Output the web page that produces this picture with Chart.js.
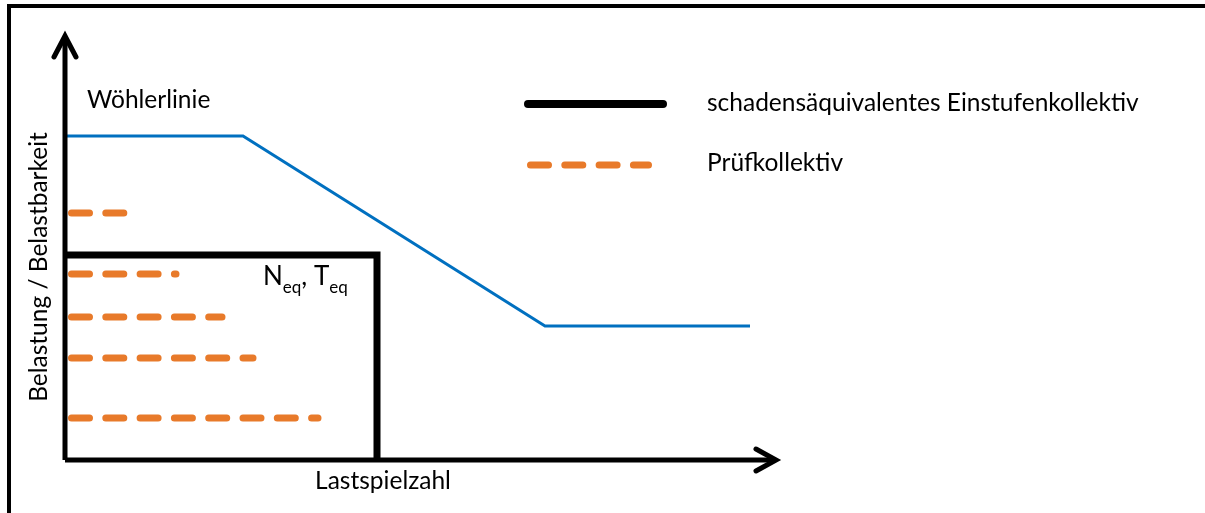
<!DOCTYPE html>
<html lang="de">
<head>
  <meta charset="UTF-8" />
  <title>Wöhlerlinie und Prüfkollektiv</title>
  <style>
    body { margin: 0; background: #fff; }
    #wrap { width: 1205px; height: 513px; position: relative; }
  </style>
</head>
<body>

<div id="wrap"><canvas id="graph"></canvas></div>

<script src="https://cdn.jsdelivr.net/npm/chart.js"></script>
<script>
// Schema-Einheiten: Ursprung = Schnittpunkt der Achsen
const woehlerX = [0, 178, 480, 685];
const woehlerY = [324, 324, 134, 134];

const eqX = [0, 312, 312];
const eqY = [205, 205, 0];

// Prüfkollektiv: Stufenhöhe und Ende jeder Stufe
const stufenY = [247, 186, 143, 102, 42];
const stufenEnde = [59, 111, 157, 188, 253];

const achseX = [0, 711];
const achseY = [0, 423];

const texte = {
  woehler: 'Wöhlerlinie',
  legEq: 'schadensäquivalentes Einstufenkollektiv',
  legPruef: 'Prüfkollektiv',
  xTitel: 'Lastspielzahl',
  yTitel: 'Belastung / Belastbarkeit'
};

const FONT = 'Lato, "Open Sans", sans-serif';
const GR = 24.5;
const blau = '#0070C0';
const orange = '#E87A2A';

const pts = (xs, ys) => xs.map((x, i) => ({x: x, y: ys[i]}));

const datasets = [];

// Achsen mit Pfeilspitzen
datasets.push({ data: pts(achseX, [0, 0]), borderColor: '#000', borderWidth: 5 });
datasets.push({ data: pts(achseX.map(() => 0), achseY), borderColor: '#000', borderWidth: 5 });
datasets.push({ data: [{x: 691, y: 11}, {x: 711, y: 0}, {x: 691, y: -11}], borderColor: '#000', borderWidth: 5, borderCapStyle: 'round' });
datasets.push({ data: [{x: -11, y: 403}, {x: 0, y: 424}, {x: 11, y: 403}], borderColor: '#000', borderWidth: 5, borderCapStyle: 'round' });

datasets.push({ data: pts(woehlerX, woehlerY), borderColor: blau, borderWidth: 3 });
datasets.push({ data: pts(eqX, eqY), borderColor: '#000', borderWidth: 7, borderJoinStyle: 'miter' });

stufenY.forEach((y, i) => {
  datasets.push({
    data: [{x: 6.5, y: y}, {x: stufenEnde[i], y: y}],
    borderColor: orange, borderWidth: 7,
    borderDash: [18, 16.3], borderCapStyle: 'round'
  });
});

function txt(ctx, s, x, y, size, align) {
  ctx.font = size + 'px ' + FONT;
  ctx.textAlign = align || 'left';
  ctx.fillText(s, x, y);
}

const deko = {
  id: 'deko',
  beforeDraw(chart) {
    const ctx = chart.ctx;
    ctx.save();
    ctx.strokeStyle = '#000';
    ctx.lineWidth = 4;
    ctx.beginPath();
    ctx.moveTo(9, 513);
    ctx.lineTo(9, 6);
    ctx.lineTo(1205, 6);
    ctx.stroke();
    ctx.restore();
  },
  afterDraw(chart) {
    const ctx = chart.ctx;
    const sx = chart.scales.x, sy = chart.scales.y;
    const px = v => sx.getPixelForValue(v), py = v => sy.getPixelForValue(v);
    ctx.save();
    ctx.fillStyle = '#000';
    ctx.textBaseline = 'alphabetic';

    txt(ctx, texte.woehler, 87, 108, GR);

    // N_eq, T_eq
    let x = px(198), y = py(175);
    ctx.font = '26px ' + FONT; ctx.textAlign = 'left';
    ctx.fillText('N', x, y); x += ctx.measureText('N').width;
    ctx.font = '17px ' + FONT;
    ctx.fillText('eq', x, y + 8); x += ctx.measureText('eq').width;
    ctx.font = '26px ' + FONT;
    ctx.fillText(', T', x, y); x += ctx.measureText(', T').width;
    ctx.font = '17px ' + FONT;
    ctx.fillText('eq', x, y + 8);

    txt(ctx, texte.xTitel, 383, 489, GR, 'center');

    ctx.save();
    ctx.translate(47, 267);
    ctx.rotate(-Math.PI / 2);
    txt(ctx, texte.yTitel, 0, 0, GR, 'center');
    ctx.restore();

    // Legende
    ctx.lineCap = 'round';
    ctx.strokeStyle = '#000';
    ctx.lineWidth = 8;
    ctx.beginPath(); ctx.moveTo(528, 104); ctx.lineTo(663, 104); ctx.stroke();
    ctx.strokeStyle = orange;
    ctx.lineWidth = 7;
    ctx.setLineDash([18, 16.3]);
    ctx.beginPath(); ctx.moveTo(530.5, 165); ctx.lineTo(648.5, 165); ctx.stroke();
    ctx.setLineDash([]);
    txt(ctx, texte.legEq, 707, 111, GR);
    txt(ctx, texte.legPruef, 707, 171, GR);
    ctx.restore();
  }
};

new Chart(document.getElementById('graph'), {
  type: 'line',
  data: { datasets: datasets },
  options: {
    responsive: true,
    maintainAspectRatio: false,
    animation: false,
    layout: { padding: 0 },
    elements: { point: { radius: 0 }, line: { tension: 0, fill: false } },
    plugins: { legend: { display: false }, tooltip: { enabled: false } },
    scales: {
      x: { type: 'linear', min: -65, max: 1140, display: false },
      y: { type: 'linear', min: -53, max: 460, display: false }
    }
  },
  plugins: [deko]
});
</script>

</body>
</html>
